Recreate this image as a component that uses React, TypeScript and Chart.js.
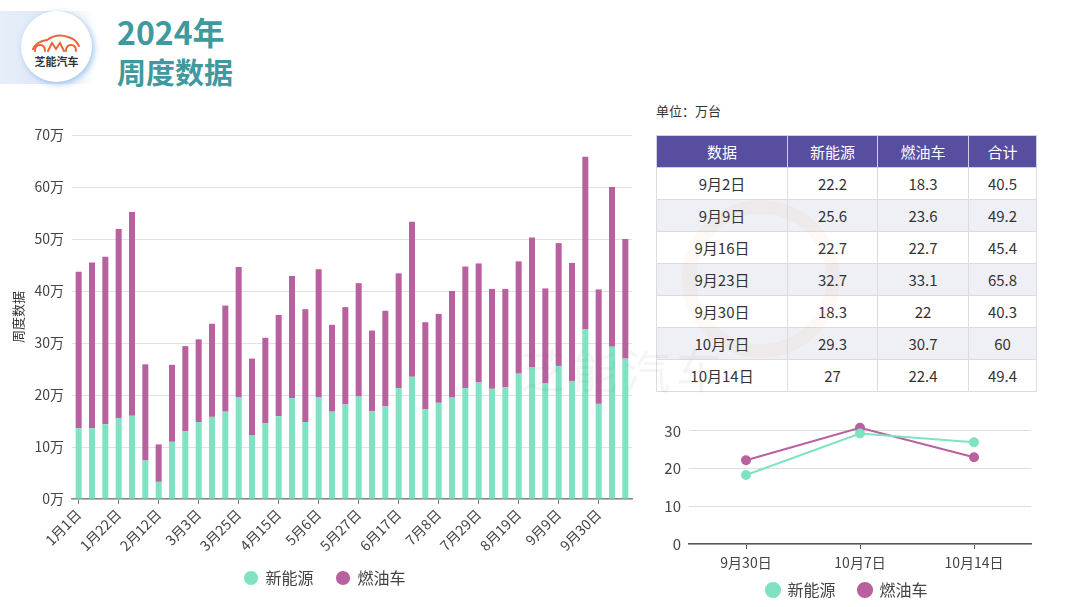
import React, { useEffect, useRef } from "react";
import { Chart, registerables } from "chart.js";

Chart.register(...registerables);

const FONT = '"Noto Sans CJK SC", "Noto Sans", sans-serif';
const GREEN = "#7ee2c3";
const PURPLE = "#b9609e";

const weeks = [
  "1月1日", "1月8日", "1月15日", "1月22日", "1月29日", "2月5日", "2月12日",
  "2月19日", "2月26日", "3月3日", "3月11日", "3月18日", "3月25日", "4月1日",
  "4月8日", "4月15日", "4月22日", "4月29日", "5月6日", "5月13日", "5月20日",
  "5月27日", "6月3日", "6月10日", "6月17日", "6月24日", "7月1日", "7月8日",
  "7月15日", "7月22日", "7月29日", "8月5日", "8月12日", "8月19日", "8月26日",
  "9月2日", "9月9日", "9月16日", "9月23日", "9月30日", "10月7日", "10月14日",
];
const nevWeekly = [
  13.6, 13.6, 14.4, 15.6, 16.0, 7.4, 3.3, 11.0, 13.0, 14.8, 15.8, 16.8, 19.5, 12.2,
  14.6, 15.9, 19.4, 14.8, 19.5, 16.8, 18.2, 19.7, 16.9, 17.8, 21.3, 23.5, 17.3, 18.5,
  19.5, 21.3, 22.4, 21.2, 21.5, 24.1, 25.4, 22.2, 25.6, 22.7, 32.7, 18.3, 29.3, 27.0,
];
const iceWeekly = [
  30.1, 31.9, 32.2, 36.3, 39.2, 18.5, 7.2, 14.8, 16.4, 15.9, 17.9, 20.4, 25.1, 14.8,
  16.4, 19.5, 23.5, 21.7, 24.7, 16.7, 18.7, 21.8, 15.5, 18.4, 22.1, 29.8, 16.7, 17.1,
  20.5, 23.4, 22.9, 19.2, 18.9, 21.6, 24.9, 18.3, 23.6, 22.7, 33.1, 22.0, 30.7, 23.0,
];

const tableHeader = ["数据", "新能源", "燃油车", "合计"];
const tableDates = ["9月2日", "9月9日", "9月16日", "9月23日", "9月30日", "10月7日", "10月14日"];
const tableNev = ["22.2", "25.6", "22.7", "32.7", "18.3", "29.3", "27"];
const tableIce = ["18.3", "23.6", "22.7", "33.1", "22", "30.7", "22.4"];
const tableTotal = ["40.5", "49.2", "45.4", "65.8", "40.3", "60", "49.4"];

const lineDates = ["9月30日", "10月7日", "10月14日"];
const lineNev = [18.3, 29.3, 27.0];
const lineIce = [22.2, 30.8, 23.0];

const legendLabels = {
  usePointStyle: true,
  pointStyle: "circle",
  boxWidth: 13,
  boxHeight: 10,
  padding: 23,
  color: "#444",
  font: { family: FONT, size: 16 },
};

// nudges the legend box after layout (keeps the axis label area unclipped)
const nudgeLegend = (lift: number, dx: number) => ({
  id: "nudgeLegend",
  afterLayout(chart: any) {
    const lg = chart.legend;
    if (lg) {
      lg.top -= lift;
      lg.bottom -= lift;
      lg.left += dx;
      lg.right += dx;
    }
  },
});

function BarChart() {
  const ref = useRef<HTMLCanvasElement | null>(null);
  useEffect(() => {
    const chart = new Chart(ref.current as HTMLCanvasElement, {
      type: "bar",
      data: {
        labels: weeks,
        datasets: [
          { label: "新能源", data: nevWeekly, backgroundColor: GREEN, borderColor: GREEN, barPercentage: 0.45, categoryPercentage: 1 },
          { label: "燃油车", data: iceWeekly, backgroundColor: PURPLE, borderColor: PURPLE, barPercentage: 0.45, categoryPercentage: 1 },
        ],
      },
      options: {
        animation: false,
        responsive: false,
        maintainAspectRatio: false,
        layout: { padding: { top: 25, right: 13, bottom: 15, left: 0 } },
        plugins: {
          tooltip: { enabled: false },
          legend: { position: "bottom", labels: legendLabels as any },
        },
        scales: {
          x: {
            stacked: true,
            grid: { display: true, drawOnChartArea: false, drawTicks: true, tickLength: 5, offset: false, color: "#777" },
            border: { display: true, color: "#888", width: 1.5 },
            ticks: {
              autoSkip: false,
              minRotation: 45,
              maxRotation: 45,
              color: "#444",
              padding: 2,
              font: { family: FONT, size: 14 },
              callback: (_v: any, i: number) => (i % 3 === 0 ? weeks[i] : null),
            },
            afterFit: (s: any) => { s.height = 57; },
          },
          y: {
            stacked: true,
            min: 0,
            max: 70,
            ticks: {
              stepSize: 10,
              color: "#444",
              padding: 8,
              font: { family: FONT, size: 14 },
              callback: (v: any) => v + "万",
            },
            grid: { color: "#e2e2e2", drawTicks: false },
            border: { display: false },
            title: { display: true, text: "周度数据", color: "#333", font: { family: FONT, size: 13 }, padding: { top: 10, bottom: 0 } },
            afterFit: (s: any) => { s.width = 72; },
          },
        },
      },
      plugins: [nudgeLegend(9, 9)],
    });
    return () => chart.destroy();
  }, []);
  return <canvas ref={ref} width={645} height={510} style={{ position: "absolute", left: 0, top: 110, width: 645, height: 510 }} />;
}

function LineChart() {
  const ref = useRef<HTMLCanvasElement | null>(null);
  useEffect(() => {
    const chart = new Chart(ref.current as HTMLCanvasElement, {
      type: "line",
      data: {
        labels: lineDates,
        datasets: [
          { label: "新能源", data: lineNev, borderColor: GREEN, backgroundColor: GREEN, pointBackgroundColor: GREEN, pointBorderColor: GREEN, borderWidth: 2, pointRadius: 4, pointStyle: "circle", tension: 0 },
          { label: "燃油车", data: lineIce, borderColor: PURPLE, backgroundColor: PURPLE, pointBackgroundColor: PURPLE, pointBorderColor: PURPLE, borderWidth: 2, pointRadius: 4, pointStyle: "circle", tension: 0 },
        ],
      },
      options: {
        animation: false,
        responsive: false,
        maintainAspectRatio: false,
        layout: { padding: { top: 14, right: 14, bottom: 4, left: 0 } },
        plugins: {
          tooltip: { enabled: false },
          legend: { position: "bottom", labels: legendLabels as any },
        },
        scales: {
          x: {
            offset: true,
            grid: { display: true, drawOnChartArea: false, drawTicks: true, tickLength: 5, offset: false, color: "#555" },
            border: { display: true, color: "#555", width: 1.5 },
            ticks: { color: "#444", padding: 5, font: { family: FONT, size: 14 } },
            afterFit: (s: any) => { s.height = 28; },
          },
          y: {
            min: 0,
            max: 35,
            ticks: {
              stepSize: 5,
              color: "#444",
              padding: 8,
              font: { family: FONT, size: 15 },
              callback: (v: any) => (v % 10 === 0 ? String(v) : null),
            },
            grid: { color: "#dedede", drawTicks: false },
            border: { display: false },
            afterFit: (s: any) => { s.width = 44; },
          },
        },
      },
      plugins: [nudgeLegend(13, 9)],
    });
    return () => chart.destroy();
  }, []);
  return <canvas ref={ref} width={400} height={230} style={{ position: "absolute", left: 645, top: 395, width: 400, height: 230 }} />;
}

function DataTable() {
  const colW = [131, 90, 91, 68];
  const cell: React.CSSProperties = {
    border: "1px solid #dcdce0",
    textAlign: "center",
    height: 31,
    padding: 0,
    fontSize: 15,
    color: "#333",
  };
  return (
    <table
      style={{
        position: "absolute",
        left: 656,
        top: 135,
        width: 381,
        borderCollapse: "collapse",
        fontFamily: FONT,
        tableLayout: "fixed",
      }}
    >
      <colgroup>
        {colW.map((w, i) => (
          <col key={i} style={{ width: w }} />
        ))}
      </colgroup>
      <thead>
        <tr>
          {tableHeader.map((h) => (
            <th key={h} style={{ ...cell, background: "#574e9f", color: "#fff", fontWeight: 400, border: "1px solid #cfcfe0" }}>
              {h}
            </th>
          ))}
        </tr>
      </thead>
      <tbody>
        {tableDates.map((d, i) => (
          <tr key={d} style={{ background: i % 2 === 1 ? "#eff0f5" : "#ffffff" }}>
            <td style={cell}>{d}</td>
            <td style={cell}>{tableNev[i]}</td>
            <td style={cell}>{tableIce[i]}</td>
            <td style={cell}>{tableTotal[i]}</td>
          </tr>
        ))}
      </tbody>
    </table>
  );
}

function Header() {
  return (
    <>
      <div
        style={{
          position: "absolute",
          left: 0,
          top: 11,
          width: 95,
          height: 73,
          background: "linear-gradient(90deg, #e6eef8 0%, #dfe9f7 50%, rgba(230,238,250,0) 100%)",
        }}
      />
      <div
        style={{
          position: "absolute",
          left: 21,
          top: 11,
          width: 71,
          height: 71,
          borderRadius: "50%",
          background: "#fff",
          boxShadow: "2px 2px 6px rgba(120,170,230,0.7)",
        }}
      >
        <svg width={71} height={71} style={{ position: "absolute", left: 0, top: 0 }}>
          <g fill="none" stroke="#e8663a" strokeWidth={2} strokeLinecap="round">
            <path d="M12 38 Q16 30 26 29 Q36 22 47 26 Q55 28 58 35" />
            <path d="M14 40 Q14 34 19 34 Q24 34 24 40" />
            <path d="M45 40 Q45 34 50 34 Q55 34 55 40" />
            <path d="M27 40 L31 32 L35 38 L39 32 L43 40" />
          </g>
          <text x={35.5} y={55} textAnchor="middle" fontFamily={FONT} fontSize={11} fontWeight={700} fill="#333">
            芝能汽车
          </text>
        </svg>
      </div>
      <div
        style={{
          position: "absolute",
          left: 117,
          top: 12,
          fontFamily: FONT,
          fontWeight: 700,
          fontSize: 32,
          lineHeight: "38px",
          color: "#3f9aa0",
        }}
      >
        2024年
      </div>
      <div
        style={{
          position: "absolute",
          left: 117,
          top: 52,
          fontFamily: FONT,
          fontWeight: 700,
          fontSize: 29,
          lineHeight: "38px",
          color: "#3f9aa0",
        }}
      >
        周度数据
      </div>
    </>
  );
}

export default function App() {
  return (
    <div style={{ position: "fixed", left: 0, top: 0, width: 1080, height: 607, background: "#fff", overflow: "hidden" }}>
      <Header />
      <div style={{ position: "absolute", left: 656, top: 101, fontFamily: FONT, fontSize: 13, color: "#333" }}>单位：万台</div>
      <DataTable />
      <BarChart />
      <LineChart />
      <div
        style={{
          position: "absolute",
          left: 682,
          top: 200,
          width: 130,
          height: 130,
          borderRadius: "50%",
          border: "14px solid rgba(240,150,90,0.06)",
          pointerEvents: "none",
        }}
      />
      <div
        style={{
          position: "absolute",
          left: 520,
          top: 335,
          fontFamily: FONT,
          fontSize: 46,
          letterSpacing: 6,
          color: "rgba(120,120,120,0.07)",
          pointerEvents: "none",
        }}
      >
        芝能汽车
      </div>
    </div>
  );
}
